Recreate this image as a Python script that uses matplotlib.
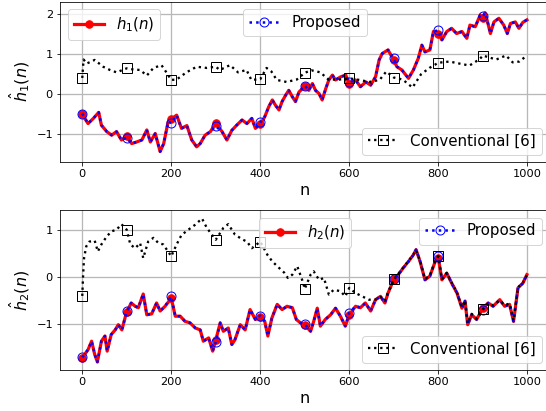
import matplotlib
matplotlib.use("Agg")
import matplotlib.pyplot as plt

# ---------------- data ----------------
n_h1 = [0, 13, 25, 37, 43, 55, 66, 77, 88, 100, 111, 122, 134, 145, 153, 164, 175, 183, 193, 200,
        212, 223, 235, 246, 257, 265, 276, 288, 300, 314, 325, 336, 347, 359, 370, 381, 389, 400,
        410, 419, 427, 434, 442, 449, 457, 464, 472, 479, 487, 500, 509, 517, 524, 532, 539, 547,
        554, 562, 569, 581, 592, 600, 614, 625, 637, 648, 659, 667, 674, 687, 700, 707, 718, 733,
        744, 755, 763, 770, 781, 789, 800, 808, 819, 830, 841, 853, 864, 871, 883, 894, 900, 905,
        912, 917, 925, 936, 947, 955, 962, 973, 981, 990, 999]
h1 = [-0.50, -0.73, -0.60, -0.45, -0.77, -0.93, -1.02, -0.93, -1.14, -1.05, -1.23, -1.19, -1.14,
      -0.89, -1.19, -0.98, -1.43, -1.23, -0.68, -0.62, -0.52, -0.85, -0.78, -1.14, -1.31, -1.23,
      -1.02, -0.93, -0.72, -0.93, -1.14, -0.90, -0.77, -0.64, -0.73, -0.60, -0.85, -0.75, -0.56,
      -0.31, -0.14, -0.27, -0.39, -0.18, -0.02, 0.10, -0.06, -0.18, 0.06, 0.20, 0.10, 0.27, 0.10,
      0.02, -0.14, 0.14, 0.36, 0.48, 0.36, 0.44, 0.48, 0.25, 0.36, 0.19, 0.31, 0.23, 0.44, 0.86,
      1.02, 1.11, 0.85, 0.69, 0.61, 0.40, 0.61, 0.90, 1.23, 1.06, 1.11, 1.57, 1.52, 1.36, 1.57,
      1.65, 1.52, 1.57, 1.40, 1.73, 1.69, 1.98, 1.92, 2.04, 1.75, 1.52, 1.81, 1.90, 1.73, 1.52,
      1.77, 1.81, 1.65, 1.80, 1.86]
prop1 = [-0.48, -0.73, -0.60, -0.45, -0.77, -0.93, -1.02, -0.93, -1.14, -1.08, -1.23, -1.19, -1.14,
         -0.89, -1.19, -0.98, -1.43, -1.23, -0.68, -0.72, -0.52, -0.85, -0.78, -1.14, -1.31, -1.23,
         -1.02, -0.93, -0.80, -0.93, -1.14, -0.90, -0.77, -0.64, -0.73, -0.60, -0.85, -0.70, -0.56,
         -0.31, -0.14, -0.27, -0.39, -0.18, -0.02, 0.10, -0.06, -0.18, 0.06, 0.22, 0.10, 0.27, 0.10,
         0.02, -0.14, 0.14, 0.36, 0.48, 0.36, 0.44, 0.48, 0.30, 0.36, 0.19, 0.31, 0.23, 0.44, 0.86,
         1.02, 1.11, 0.90, 0.69, 0.61, 0.40, 0.61, 0.90, 1.23, 1.06, 1.11, 1.57, 1.60, 1.36, 1.57,
         1.65, 1.52, 1.57, 1.40, 1.73, 1.69, 1.98, 1.95, 2.04, 1.75, 1.52, 1.81, 1.90, 1.73, 1.52,
         1.77, 1.81, 1.65, 1.80, 1.86]

n_c1 = [0, 3, 10, 28, 47, 62, 77, 100, 115, 130, 145, 160, 178, 189, 200, 212, 234, 257, 280, 300,
        309, 332, 350, 369, 380, 400, 414, 425, 437, 459, 482, 500, 515, 535, 553, 578, 600, 623,
        645, 668, 683, 700, 720, 742, 761, 780, 800, 825, 847, 870, 893, 900, 930, 952, 967, 982, 999]
conv1 = [0.41, 0.87, 0.77, 0.86, 0.69, 0.61, 0.55, 0.65, 0.62, 0.61, 0.47, 0.66, 0.73, 0.55, 0.36,
         0.37, 0.55, 0.69, 0.66, 0.69, 0.61, 0.73, 0.55, 0.61, 0.36, 0.38, 0.66, 0.57, 0.36, 0.31,
         0.37, 0.54, 0.60, 0.55, 0.37, 0.37, 0.40, 0.36, 0.31, 0.36, 0.57, 0.42, 0.37, 0.17, 0.50,
         0.66, 0.79, 0.82, 0.77, 0.72, 0.88, 0.97, 0.87, 0.97, 0.80, 0.82, 0.97]

n_h2 = [0, 13, 21, 28, 34, 43, 51, 56, 65, 74, 81, 89, 96, 100, 110, 119, 126, 137, 145, 156, 167,
        175, 186, 200, 209, 220, 231, 242, 254, 265, 272, 284, 293, 300, 310, 317, 328, 336, 343,
        355, 366, 377, 389, 400, 410, 417, 426, 438, 449, 460, 472, 481, 490, 500, 513, 520, 528,
        535, 546, 558, 569, 580, 591, 600, 614, 625, 636, 648, 659, 670, 680, 687, 700, 710, 721,
        733, 744, 750, 759, 770, 781, 793, 800, 808, 819, 830, 842, 853, 860, 866, 875, 886, 900,
        912, 923, 938, 949, 960, 969, 979, 990, 999]
h2 = [-1.71, -1.54, -1.36, -1.64, -1.80, -1.36, -1.25, -1.57, -1.22, -1.12, -1.01, -1.12, -0.87,
      -0.74, -0.55, -0.62, -0.65, -0.36, -0.80, -0.78, -0.55, -0.72, -0.62, -0.45, -0.83, -0.83,
      -0.94, -0.97, -1.08, -1.12, -1.36, -1.29, -1.57, -1.33, -0.97, -1.15, -1.08, -1.43, -1.33,
      -1.01, -1.12, -0.69, -0.90, -0.84, -0.94, -1.25, -0.87, -0.58, -0.69, -0.62, -0.65, -0.90,
      -0.97, -1.02, -1.15, -0.94, -0.66, -1.04, -0.90, -0.80, -0.66, -0.83, -1.04, -0.80, -0.62,
      -0.65, -0.55, -0.72, -0.48, -0.41, -0.55, -0.34, -0.05, 0.05, 0.19, 0.33, 0.47, 0.58, 0.33,
      -0.06, 0.02, 0.33, 0.40, -0.06, 0.08, -0.13, -0.34, -0.66, -0.51, -1.01, -0.80, -0.90, -0.66,
      -0.55, -0.62, -0.48, -0.62, -0.58, -0.94, -0.23, -0.13, 0.05]
prop2 = [-1.70, -1.54, -1.36, -1.64, -1.80, -1.36, -1.25, -1.57, -1.22, -1.12, -1.01, -1.12, -0.87,
         -0.73, -0.55, -0.62, -0.65, -0.36, -0.80, -0.78, -0.55, -0.72, -0.62, -0.41, -0.83, -0.83,
         -0.94, -0.97, -1.08, -1.12, -1.36, -1.29, -1.57, -1.38, -0.97, -1.15, -1.08, -1.43, -1.33,
         -1.01, -1.12, -0.69, -0.90, -0.82, -0.94, -1.25, -0.87, -0.58, -0.69, -0.62, -0.65, -0.90,
         -0.97, -1.00, -1.15, -0.94, -0.66, -1.04, -0.90, -0.80, -0.66, -0.83, -1.04, -0.76, -0.62,
         -0.65, -0.55, -0.72, -0.48, -0.41, -0.55, -0.34, -0.05, 0.05, 0.19, 0.33, 0.47, 0.58, 0.33,
         -0.06, 0.02, 0.33, 0.44, -0.06, 0.08, -0.13, -0.34, -0.66, -0.51, -1.01, -0.80, -0.90, -0.70,
         -0.55, -0.62, -0.48, -0.62, -0.58, -0.94, -0.23, -0.13, 0.05]

n_c2 = [0, 2, 4, 9, 16, 28, 35, 43, 55, 66, 77, 88, 100, 108, 119, 130, 137, 148, 160, 171, 182,
        200, 212, 223, 238, 254, 269, 280, 291, 300, 317, 328, 343, 359, 370, 381, 400, 416, 427,
        438, 454, 462, 472, 483, 494, 500, 513, 520, 532, 543, 554, 565, 580, 591, 600, 614, 629,
        644, 659, 670, 680, 687, 700, 710, 721, 733, 744, 750, 759, 770, 781, 793, 800, 808, 819,
        830, 842, 853, 860, 866, 875, 886, 900, 912, 923, 938, 949, 960, 969, 979, 990, 999]
conv2 = [-0.40, 0.05, 0.40, 0.65, 0.75, 0.77, 0.54, 0.69, 0.86, 0.97, 1.00, 1.12, 1.00, 0.69, 0.61,
         0.72, 0.40, 0.75, 0.83, 0.72, 0.69, 0.44, 0.69, 0.89, 1.00, 1.11, 1.24, 1.04, 0.90, 0.79,
         1.04, 1.12, 0.90, 0.80, 0.75, 0.61, 0.75, 0.47, 0.33, 0.23, 0.09, -0.02, 0.05, 0.23, -0.06,
         -0.25, 0.05, 0.12, -0.06, -0.02, -0.37, -0.27, -0.30, -0.41, -0.23, -0.34, -0.41, -0.48,
         -0.48, -0.42, -0.50, -0.33, -0.05, 0.06, 0.20, 0.34, 0.48, 0.57, 0.34, -0.04, 0.03, 0.34,
         0.44, -0.04, 0.09, -0.12, -0.33, -0.64, -0.50, -0.98, -0.78, -0.88, -0.68, -0.56, -0.60,
         -0.50, -0.60, -0.56, -0.92, -0.22, -0.12, 0.04]

x_ticks = [0, 200, 400, 600, 800, 1000]
y_ticks_top = [-1, 0, 1, 2]
y_ticks_bot = [-1, 0, 1]


def marks(nlist):
    return [i for i, v in enumerate(nlist) if v % 100 == 0 and v < 1000]


DPI = 72
W, H = 546, 411
fig = plt.figure(figsize=(W / DPI, H / DPI), dpi=DPI)
plt.rcParams['mathtext.fontset'] = 'dejavusans'

ax1 = fig.add_axes([60 / W, 1 - 162 / H, 489.6 / W, 160.3 / H])
ax2 = fig.add_axes([60 / W, 1 - 370 / H, 489.6 / W, 160 / H])

LEG_FS = 15
TICK_FS = 11.4
LAB_FS = 16


def draw(ax, n_h, h, prop, n_c, conv, hlabel, ylabel, hloc, ploc):
    lh, = ax.plot(n_h, h, '-', color='red', lw=3.2, marker='o', ms=7.5,
                  markevery=marks(n_h), zorder=2)
    lp, = ax.plot(n_h, prop, ':', color='blue', lw=2.5, marker='o', ms=9, mfc='none',
                  mec='blue', mew=1.0, markevery=marks(n_h), zorder=3)
    lc, = ax.plot(n_c, conv, ':', color='black', lw=2.3, marker='s', ms=9.5, mfc='none',
                  mec='black', mew=1.0, markevery=marks(n_c), zorder=4)
    ax.set_xlim(-50, 1050)
    ax.set_xticks(x_ticks)
    ax.grid(True, color='#b8b8b8', lw=1.3)
    ax.set_axisbelow(True)
    ax.tick_params(labelsize=TICK_FS)
    ax.set_xlabel('n', fontsize=LAB_FS)
    ax.set_ylabel(ylabel, fontsize=LAB_FS)
    l1 = ax.legend([lh], [hlabel], loc=hloc, fontsize=LEG_FS, numpoints=1)
    ax.add_artist(l1)
    l2 = ax.legend([lp], ['Proposed'], loc=ploc, fontsize=LEG_FS, numpoints=1)
    ax.add_artist(l2)
    ax.legend([lc], ['Conventional [6]'], loc='lower right', fontsize=LEG_FS, numpoints=1)


draw(ax1, n_h1, h1, prop1, n_c1, conv1, r'$h_1(n)$', r'$\hat{h}_1(n)$', 'upper left', 'upper center')
ax1.set_ylim(-1.69, 2.315)
ax1.set_yticks(y_ticks_top)

draw(ax2, n_h2, h2, prop2, n_c2, conv2, r'$h_2(n)$', r'$\hat{h}_2(n)$', 'upper center', 'upper right')
ax2.set_ylim(-1.97, 1.42)
ax2.set_yticks(y_ticks_bot)

fig.savefig('out.png', dpi=DPI)
